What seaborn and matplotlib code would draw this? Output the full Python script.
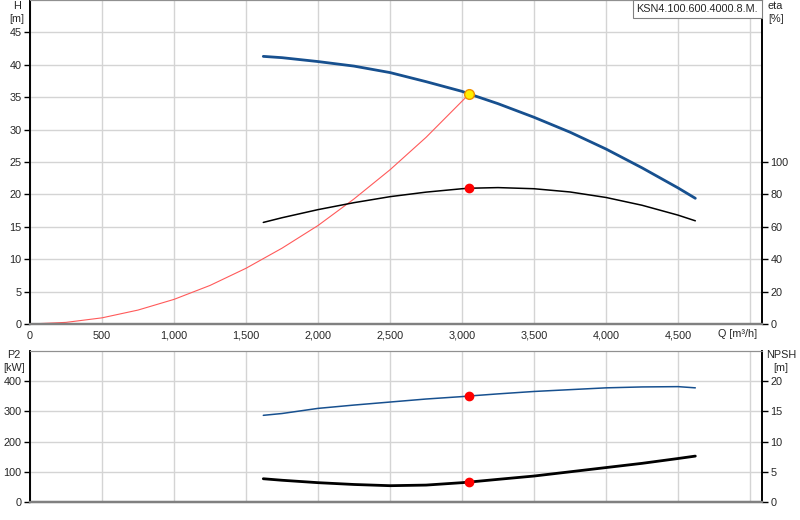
import pandas as pd
import seaborn as sns
import matplotlib.pyplot as plt

# pump curve readings (Q in m3/h)
q_pump = [1620, 1750, 2000, 2250, 2500, 2750, 3000, 3050, 3250, 3500, 3750, 4000, 4250, 4500, 4620]
head = [41.3, 41.1, 40.5, 39.8, 38.8, 37.4, 35.9, 35.5, 34.0, 31.9, 29.6, 27.0, 24.1, 21.0, 19.4]
eta = [62.7, 65.6, 70.6, 74.9, 78.6, 81.4, 83.5, 83.8, 84.2, 83.5, 81.5, 78.1, 73.3, 67.2, 63.7]
p2 = [287, 293, 310, 321, 331, 341, 349, 351, 358, 366, 372, 378, 381, 382, 378]
npsh = [3.85, 3.6, 3.2, 2.9, 2.7, 2.8, 3.2, 3.3, 3.75, 4.3, 5.0, 5.7, 6.4, 7.2, 7.6]

# system curve
q_sys = [0, 250, 500, 750, 1000, 1250, 1500, 1750, 2000, 2250, 2500, 2750, 3050]
h_sys = [0, 0.25, 0.95, 2.15, 3.8, 5.95, 8.6, 11.7, 15.2, 19.3, 23.8, 28.8, 35.5]

duty_q = 3050
duty_h = 35.5
duty_eta = 83.8
duty_p2 = 351
duty_npsh = 3.3

pump_name = "KSN4.100.600.4000.8.M."

df = pd.DataFrame({"Q": q_pump, "H": head, "eta": eta, "P2": p2, "NPSH": npsh})
sys_df = pd.DataFrame({"Q": q_sys, "H": h_sys})

sns.set_style("white")
plt.rcParams['font.family'] = ['Liberation Sans', 'DejaVu Sans']
fs = 7.8
blue = '#17508f'
gridc = '#d4d4d4'

fig = plt.figure(figsize=(8, 5.2), dpi=100)
ax1 = fig.add_axes([30/800, 196/520, 732/800, 324/520])
ax2 = ax1.twinx()
ax3 = fig.add_axes([30/800, 18/520, 732/800, 151/520])
ax4 = ax3.twinx()

xmax = 5083
xticks = list(range(0, 5001, 500))
xlabels = [f"{t:,}" for t in xticks[:-1]] + [""]

# top panel
sns.lineplot(data=sys_df, x="Q", y="H", ax=ax1, color='#ff5a5a', lw=0.8)
sns.lineplot(data=df, x="Q", y="H", ax=ax1, color=blue, lw=2.0)
ax1.plot([duty_q], [duty_h], 'o', ms=7, mfc='#ffee00', mec='#f09000', mew=1, zorder=5)
sns.lineplot(data=df, x="Q", y="eta", ax=ax2, color='black', lw=1.1)
ax2.plot([duty_q], [duty_eta], 'o', ms=6, color='red', zorder=5)

ax1.set_xlim(0, xmax)
ax1.set_ylim(0, 50)
ax2.set_ylim(0, 200)
ax1.set_xticks(xticks)
ax1.set_xticklabels(xlabels)
ax1.set_yticks(range(0, 46, 5))
ax2.set_yticks(range(0, 101, 20))
ax1.grid(True, color=gridc, lw=1)
ax1.set_axisbelow(True)

# bottom panel
sns.lineplot(data=df, x="Q", y="P2", ax=ax3, color=blue, lw=1.1)
ax3.plot([duty_q], [duty_p2], 'o', ms=6, color='red', zorder=5)
sns.lineplot(data=df, x="Q", y="NPSH", ax=ax4, color='black', lw=2.0)
ax4.plot([duty_q], [duty_npsh], 'o', ms=6, color='red', zorder=5)

ax3.set_xlim(0, xmax)
ax3.set_ylim(0, 500)
ax4.set_ylim(0, 25)
ax3.set_xticks(xticks)
ax3.set_xticklabels([])
ax3.set_yticks(range(0, 401, 100))
ax4.set_yticks(range(0, 21, 5))
ax3.grid(True, color=gridc, lw=1)
ax3.set_axisbelow(True)

for ax in (ax1, ax2, ax3, ax4):
    ax.set_xlabel("")
    ax.set_ylabel("")
    ax.tick_params(labelsize=fs, length=4, width=1, color='black', pad=2)
    for side in ('left', 'right'):
        ax.spines[side].set_color('black')
        ax.spines[side].set_linewidth(1.2)
    ax.spines['top'].set_color('#909090')
    ax.spines['bottom'].set_color('#808080')
    ax.spines['bottom'].set_linewidth(1.6)
ax1.tick_params(axis='x', length=3)
ax3.tick_params(axis='x', length=0)
ax3.spines['bottom'].set_color('#404040')

# axis titles
fig.text(17/800, 1 - 1/520, "H\n[m]", ha='center', va='top', fontsize=fs, linespacing=1.35)
fig.text(768/800, 1 - 1/520, "eta\n[%]", ha='left', va='top', fontsize=fs, linespacing=1.35)
fig.text(14/800, 1 - 350/520, "P2\n[kW]", ha='center', va='top', fontsize=fs, linespacing=1.35)
fig.text(781/800, 1 - 350/520, "NPSH\n[m]", ha='center', va='top', fontsize=fs, linespacing=1.35)
fig.text(757/800, 1 - 334/520, "Q [m³/h]", ha='right', va='center', fontsize=fs)
fig.text(758/800, 1 - 9/520, pump_name, ha='right', va='center', fontsize=fs,
         bbox=dict(boxstyle='square,pad=0.35', fc='white', ec='#808080', lw=0.8))

plt.savefig("out.png", dpi=100)
